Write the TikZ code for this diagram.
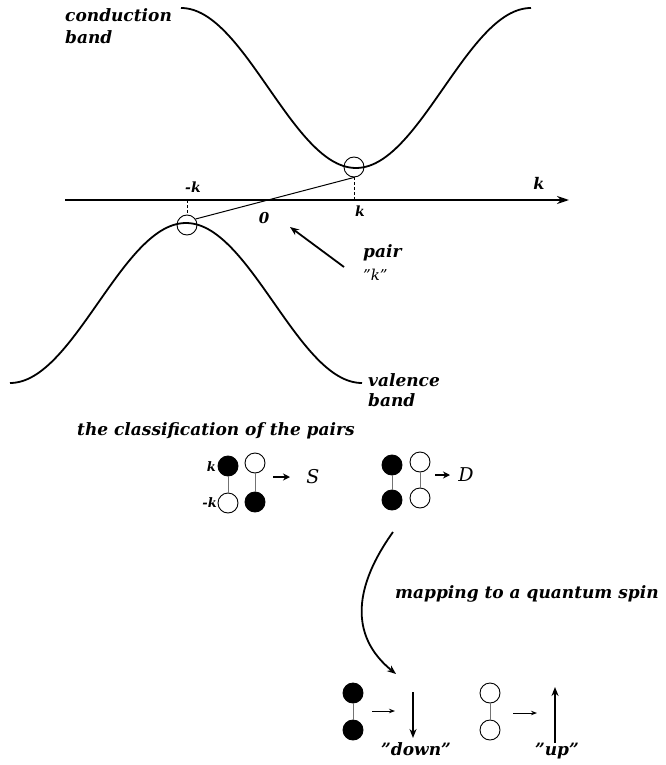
\documentclass[tikz,border=0pt]{standalone}
\usepackage{fontspec}
\setmainfont{DejaVu Serif}
\usetikzlibrary{arrows.meta}
\begin{document}
\begin{tikzpicture}[x=1pt,y=-1pt,
  lbl/.style={inner sep=0pt, anchor=base west, font=\bfseries\itshape\fontsize{17}{22}\selectfont},
  sml/.style={inner sep=0pt, font=\bfseries\itshape\fontsize{14}{16}\selectfont},
  letter/.style={inner sep=0pt, font=\itshape\fontsize{19}{22}\selectfont},
  dot/.style={circle, draw, line width=0.9pt, minimum size=20pt, inner sep=0pt},
  blk/.style={dot, fill=black},
  wht/.style={dot, fill=white},
  ring/.style={circle, draw, line width=0.9pt, minimum size=20pt, inner sep=0pt},
  bandline/.style={line width=1.8pt},
  link/.style={draw=black!55, line width=0.7pt},
  guide/.style={densely dashed, line width=0.6pt},
  smalltip/.style={line width=0.9pt, -{Stealth[length=6pt,width=4.5pt]}},
  boldtip/.style={line width=1.8pt, -{Stealth[length=9pt,width=7pt]}},
]
\useasboundingbox (0,0) rectangle (665,765);
% bands
\draw[bandline] plot[domain=0:360,samples=120,smooth] ({181+\x/360*350},{8+80*(1-cos(\x))});
\draw[bandline] plot[domain=0:360,samples=120,smooth] ({10+\x/360*352},{383-80*(1-cos(\x))});
% axis
\coordinate (ax0) at (65,200);
\coordinate (ax1) at (569,200);
\draw[line width=2.6pt, -{Stealth[length=12pt,width=8pt]}] (ax0) -- (ax1);
% pair circles
\node[ring] (cu) at (354,167) {};
\node[ring] (cv) at (187,225) {};
\draw[line width=1pt] (cu.south) -- (cv.35);
\draw[guide] (cu.south) -- (cu.south |- ax0);
\draw[guide] (cv.north |- ax0) -- (cv.north);
% axis labels
\node[sml, font=\bfseries\itshape\fontsize{16}{18}\selectfont] (kaxis) at (539,183) {k};
\node[sml] (mk) at (193,187) {-k};
\node[sml, font=\bfseries\itshape\fontsize{15}{18}\selectfont] (zero) at (264,218) {0};
\node[sml] (kb) at (360,211) {k};
% pair
\node[lbl] (pair) at (363,257) {pair};
\node[lbl, font=\itshape\fontsize{15}{18}\selectfont] (pairk) at (363,280) {"k"};
\coordinate (ps) at (344,267);
\coordinate (pe) at (290,227);
\draw[boldtip] (ps) -- (pe);
% band labels
\node[lbl] (cond1) at (65,22) {conduction};
\node[lbl] (cond2) at (65,44) {band};
\node[lbl] (val1) at (368,386) {valence};
\node[lbl] (val2) at (368,406) {band};
% classification
\node[lbl] (cls) at (77,435) {the classification of the pairs};
% S group
\node[blk] (a1) at (228,466) {};
\node[wht] (a2) at (255,463) {};
\node[wht] (a3) at (228,503) {};
\node[blk] (a4) at (255,502) {};
\draw[link] (a1) -- (a3);
\draw[link] (a2) -- (a4);
\node[sml, anchor=east, font=\bfseries\itshape\fontsize{13}{15}\selectfont] (ka) at (216,467) {k};
\node[sml, anchor=east, font=\bfseries\itshape\fontsize{13}{15}\selectfont] (mka) at (217,503) {-k};
\node[letter] (S) at (313,477) {S};
\coordinate (sa0) at (273,477);
\coordinate (sa1) at (290,477);
\draw[line width=1.6pt, -{Stealth[length=7pt,width=7pt]}] (sa0) -- (sa1);
% D group
\node[blk] (b1) at (392,465) {};
\node[wht] (b2) at (420,462) {};
\node[blk] (b3) at (392,500) {};
\node[wht] (b4) at (420,498) {};
\draw[link] (b1) -- (b3);
\draw[link] (b2) -- (b4);
\node[letter] (D) at (466,475) {D};
\coordinate (da0) at (435,475);
\coordinate (da1) at (450,475);
\draw[line width=1.6pt, -{Stealth[length=7pt,width=7pt]}] (da0) -- (da1);
% mapping arrow
\coordinate (c0) at (393,532);
\coordinate (c1) at (396,674);
\draw[boldtip] (c0) .. controls (355,585) and (348,635) .. (c1);
\node[lbl] (map) at (395,598) {mapping to a quantum spin};
% down
\node[blk] (d1) at (353,693) {};
\node[blk] (d2) at (353,730) {};
\draw[link] (d1) -- (d2);
\coordinate (ds0) at (372,711);
\coordinate (ds1) at (395,711);
\draw[smalltip] (ds0) -- (ds1);
\coordinate (dn0) at (413,692);
\coordinate (dn1) at (413,738);
\draw[boldtip] (dn0) -- (dn1);
\node[lbl, anchor=base] (down) at (416,755) {"down"};
% up
\node[wht] (u1) at (490,693) {};
\node[wht] (u2) at (490,730) {};
\draw[link] (u1) -- (u2);
\coordinate (us0) at (513,713);
\coordinate (us1) at (537,713);
\draw[smalltip] (us0) -- (us1);
\coordinate (up0) at (555,743);
\coordinate (up1) at (555,687);
\draw[boldtip] (up0) -- (up1);
\node[lbl, anchor=base] (up) at (557,755) {"up"};
\end{tikzpicture}
\end{document}
